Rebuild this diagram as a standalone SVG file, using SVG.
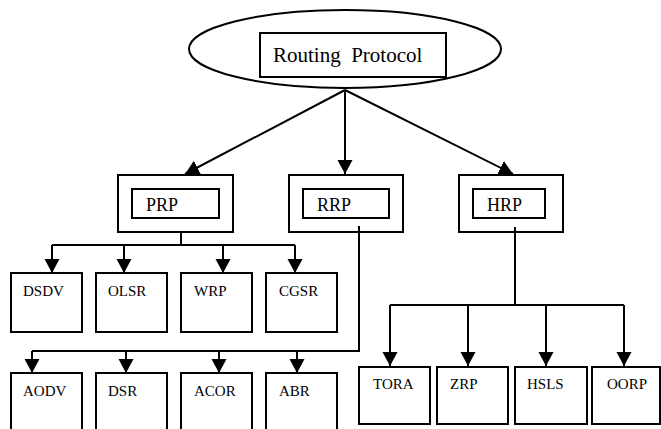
<svg xmlns="http://www.w3.org/2000/svg" width="661" height="429" viewBox="0 0 661 429">
<style>
.b{fill:#fff;stroke:#000;stroke-width:2}
.l{fill:none;stroke:#000;stroke-width:2}
text{font-family:'Liberation Serif','Times New Roman',serif;fill:#000}
.t{font-size:15px}
.m{font-size:18px}
</style>
<defs>
<marker id="ah" markerUnits="userSpaceOnUse" markerWidth="16" markerHeight="16" refX="14" refY="7.5" orient="auto" viewBox="0 0 16 16">
<path d="M0,0 L14,7.5 L0,15 z" fill="#000"/>
</marker>
</defs>
<rect width="661" height="429" fill="#fff"/>
<g id="connectors" class="l">
<line x1="345" y1="90" x2="185" y2="174" marker-end="url(#ah)"/>
<line x1="345" y1="90" x2="345" y2="174" marker-end="url(#ah)"/>
<line x1="345" y1="90" x2="513" y2="174" marker-end="url(#ah)"/>
<polyline points="181,232 181,245"/>
<line x1="52" y1="245" x2="295" y2="245"/>
<line x1="52" y1="245" x2="52" y2="273" marker-end="url(#ah)"/>
<line x1="124" y1="245" x2="124" y2="273" marker-end="url(#ah)"/>
<line x1="223" y1="245" x2="223" y2="273" marker-end="url(#ah)"/>
<line x1="295" y1="245" x2="295" y2="273" marker-end="url(#ah)"/>
<polyline points="359,351 32,351"/>
<line x1="32" y1="351" x2="32" y2="373" marker-end="url(#ah)"/>
<line x1="126" y1="351" x2="126" y2="373" marker-end="url(#ah)"/>
<line x1="219" y1="351" x2="219" y2="373" marker-end="url(#ah)"/>
<line x1="297" y1="351" x2="297" y2="373" marker-end="url(#ah)"/>
<line x1="390" y1="305" x2="624" y2="305"/>
<line x1="390" y1="305" x2="390" y2="366" marker-end="url(#ah)"/>
<line x1="468" y1="305" x2="468" y2="366" marker-end="url(#ah)"/>
<line x1="546" y1="305" x2="546" y2="366" marker-end="url(#ah)"/>
<line x1="624" y1="305" x2="624" y2="366" marker-end="url(#ah)"/>
</g>
<g id="root">
<ellipse cx="345" cy="49" rx="156" ry="39" class="b"/>
<rect x="260" y="33" width="186" height="44" class="b"/>
<text x="273" y="62" style="font-size:21px" xml:space="preserve">Routing  Protocol</text>
</g>
<g id="prp">
<rect x="118" y="175" width="115" height="57" class="b"/>
<rect x="132" y="189" width="87" height="29" class="b"/>
<text x="146" y="211" class="m">PRP</text>
</g>
<g id="rrp">
<rect x="289" y="175" width="114" height="57" class="b"/>
<rect x="303" y="189" width="86" height="29" class="b"/>
<text x="317" y="211" class="m">RRP</text>
</g>
<g id="hrp">
<rect x="459" y="175" width="104" height="57" class="b"/>
<rect x="473" y="189" width="72" height="29" class="b"/>
<text x="487" y="211" class="m">HRP</text>
</g>
<g id="connectors2" class="l">
<line x1="359" y1="226" x2="359" y2="352"/>
<line x1="515" y1="227" x2="515" y2="306"/>
</g>
<g id="dsdv"><rect x="11" y="273" width="71" height="59" class="b"/><text x="23" y="296" class="t">DSDV</text></g>
<g id="olsr"><rect x="96" y="273" width="71" height="59" class="b"/><text x="108" y="296" class="t">OLSR</text></g>
<g id="wrp"><rect x="181" y="273" width="71" height="59" class="b"/><text x="194" y="296" class="t">WRP</text></g>
<g id="cgsr"><rect x="266" y="273" width="71" height="59" class="b"/><text x="279" y="296" class="t">CGSR</text></g>
<g id="aodv"><rect x="11" y="373" width="71" height="70" class="b"/><text x="23" y="396" class="t">AODV</text></g>
<g id="dsr"><rect x="96" y="373" width="71" height="70" class="b"/><text x="108" y="396" class="t">DSR</text></g>
<g id="acor"><rect x="181" y="373" width="71" height="70" class="b"/><text x="194" y="396" class="t">ACOR</text></g>
<g id="abr"><rect x="266" y="373" width="71" height="70" class="b"/><text x="279" y="396" class="t">ABR</text></g>
<g id="tora"><rect x="359" y="367" width="71" height="57" class="b"/><text x="373" y="389" class="t">TORA</text></g>
<g id="zrp"><rect x="437" y="367" width="71" height="57" class="b"/><text x="450" y="389" class="t">ZRP</text></g>
<g id="hsls"><rect x="515" y="367" width="72" height="57" class="b"/><text x="527" y="389" class="t">HSLS</text></g>
<g id="oorp"><rect x="592" y="367" width="68" height="57" class="b"/><text x="607" y="389" class="t">OORP</text></g>
</svg>
